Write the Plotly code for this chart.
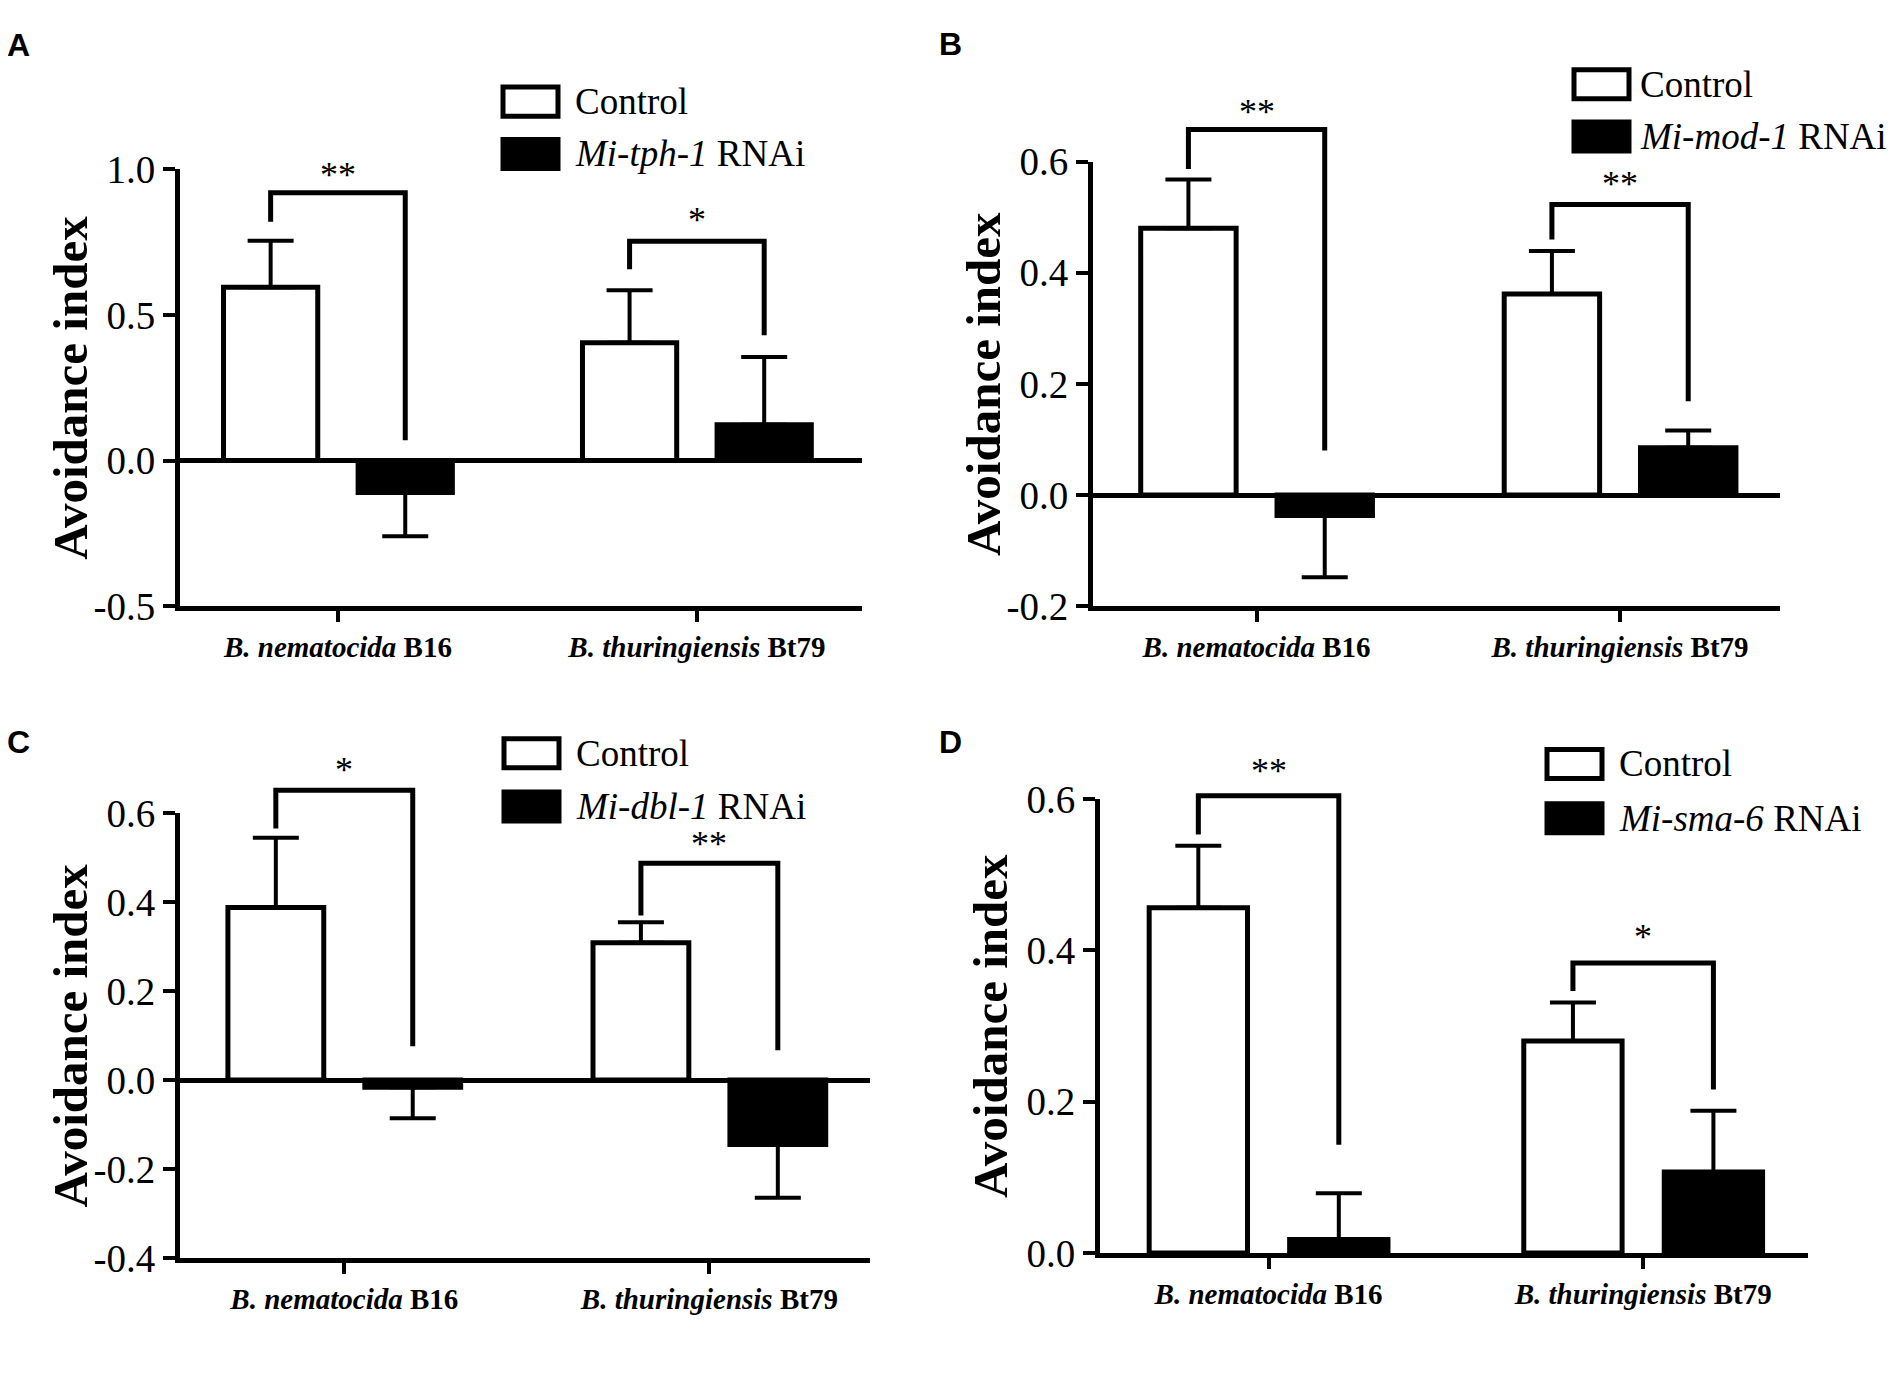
import plotly.graph_objects as go

# page body has an 8px margin, so the figure is drawn 8px smaller on each side
M = 8
W, H = 1904 - 2 * M, 1375 - 2 * M

categories = ["<b><i>B. nematocida</i> B16</b>", "<b><i>B. thuringiensis</i> Bt79</b>"]
panel_letters = ["A", "B", "C", "D"]
genes = ["Mi-tph-1", "Mi-mod-1", "Mi-dbl-1", "Mi-sma-6"]

# avoidance index, per panel: [B16, Bt79]
control_a = [0.595, 0.405]
control_err_a = [0.16, 0.18]
rnai_a = [-0.11, 0.123]
rnai_err_a = [0.15, 0.233]

control_b = [0.48, 0.362]
control_err_b = [0.088, 0.077]
rnai_b = [-0.037, 0.085]
rnai_err_b = [0.111, 0.031]

control_c = [0.388, 0.309]
control_err_c = [0.157, 0.046]
rnai_c = [-0.016, -0.145]
rnai_err_c = [0.07, 0.12]

control_d = [0.456, 0.28]
control_err_d = [0.082, 0.051]
rnai_d = [0.018, 0.107]
rnai_err_d = [0.061, 0.081]

# significance brackets: top, left leg end, right leg end, star height, label
bracket_top_a = [0.92, 0.753]
bracket_left_a = [0.82, 0.657]
bracket_right_a = [0.07, 0.43]
star_y_a = [1.0, 0.847]
stars_a = ["**", "*"]

bracket_top_b = [0.658, 0.523]
bracket_left_b = [0.587, 0.46]
bracket_right_b = [0.08, 0.169]
star_y_b = [0.70, 0.57]
stars_b = ["**", "**"]

bracket_top_c = [0.652, 0.488]
bracket_left_c = [0.566, 0.37]
bracket_right_c = [0.076, 0.067]
star_y_c = [0.71, 0.545]
stars_c = ["*", "**"]

bracket_top_d = [0.604, 0.383]
bracket_left_d = [0.553, 0.346]
bracket_right_d = [0.143, 0.216]
star_y_d = [0.645, 0.426]
stars_d = ["**", "*"]

yticks_a = [-0.5, 0.0, 0.5, 1.0]
yticks_b = [-0.2, 0.0, 0.2, 0.4, 0.6]
yticks_c = [-0.4, -0.2, 0.0, 0.2, 0.4, 0.6]
yticks_d = [0.0, 0.2, 0.4, 0.6]

panels = [
    dict(ctrl=control_a, ctrl_err=control_err_a, rnai=rnai_a, rnai_err=rnai_err_a,
         top=bracket_top_a, left=bracket_left_a, right=bracket_right_a,
         star_y=star_y_a, stars=stars_a, yticks=yticks_a),
    dict(ctrl=control_b, ctrl_err=control_err_b, rnai=rnai_b, rnai_err=rnai_err_b,
         top=bracket_top_b, left=bracket_left_b, right=bracket_right_b,
         star_y=star_y_b, stars=stars_b, yticks=yticks_b),
    dict(ctrl=control_c, ctrl_err=control_err_c, rnai=rnai_c, rnai_err=rnai_err_c,
         top=bracket_top_c, left=bracket_left_c, right=bracket_right_c,
         star_y=star_y_c, stars=stars_c, yticks=yticks_c),
    dict(ctrl=control_d, ctrl_err=control_err_d, rnai=rnai_d, rnai_err=rnai_err_d,
         top=bracket_top_d, left=bracket_left_d, right=bracket_right_d,
         star_y=star_y_d, stars=stars_d, yticks=yticks_d),
]

# panel frames in page pixels: axis x0, x1, y of top tick, y of bottom tick, x range
boxes = [
    dict(x0=180, x1=862, yt=153, yb=604, xr=[-0.44, 1.46]),
    dict(x0=1093, x1=1780, yt=145, yb=604, xr=[-0.45, 1.44]),
    dict(x0=180, x1=870, yt=818, yb=1277, xr=[-0.45, 1.44]),
    dict(x0=1100, x1=1808, yt=803, yb=1272, xr=[-0.45, 1.44]),
]
legend_pos = [
    dict(bx=503, tx=573, cy=83, ry=137),
    dict(bx=1574, tx=1638, cy=65, ry=119),
    dict(bx=504, tx=574, cy=756, ry=811),
    dict(bx=1547, tx=1617, cy=767, ry=823),
]
letter_pos = [(18, 25), (950, 24), (18, 744), (950, 744)]

SERIF = "Liberation Serif, Times New Roman, serif"
BARGAP = 0.25
OFF = (1 - BARGAP) / 4


def px(x):
    return (x - M) / W


def py(y):
    return 1 - (y - M) / H


def frac(v, lo, hi):
    return (v - lo) / (hi - lo)


fig = go.Figure()
layout = {}
shapes = []
annotations = []

for i, (p, b) in enumerate(zip(panels, boxes)):
    n = i + 1
    xa = "x" if n == 1 else f"x{n}"
    ya = "y" if n == 1 else f"y{n}"
    yt = p["yticks"]
    y0, y1 = yt[0], yt[-1]
    x0, x1 = b["xr"]

    for vals, errs, fill in [(p["ctrl"], p["ctrl_err"], "white"), (p["rnai"], p["rnai_err"], "black")]:
        plus = [e if v >= 0 else 0 for v, e in zip(vals, errs)]
        minus = [e if v < 0 else 0 for v, e in zip(vals, errs)]
        fig.add_trace(go.Bar(
            x=[0, 1], y=vals, xaxis=xa, yaxis=ya, showlegend=False,
            marker=dict(color=fill, line=dict(color="black", width=5)),
            error_y=dict(type="data", symmetric=False, array=plus, arrayminus=minus,
                         color="black", thickness=4, width=23),
        ))

    layout["xaxis" if n == 1 else f"xaxis{n}"] = dict(
        domain=[px(b["x0"]), px(b["x1"])], anchor=ya, range=b["xr"],
        tickvals=[0, 1], ticktext=categories, ticks="outside", ticklen=11,
        tickwidth=4, tickcolor="black", showline=True, linewidth=5, linecolor="black",
        showgrid=False, zeroline=False, tickfont=dict(family=SERIF, size=29, color="black"),
    )
    layout["yaxis" if n == 1 else f"yaxis{n}"] = dict(
        domain=[py(b["yb"]), py(b["yt"])], anchor=xa, range=[y0, y1],
        tickvals=yt, ticktext=[f"{v:.1f}" for v in yt], ticks="outside", ticklen=12,
        tickwidth=4, tickcolor="black", showline=True, linewidth=5, linecolor="black",
        showgrid=False, zeroline=y0 < 0, zerolinecolor="black", zerolinewidth=5,
        tickfont=dict(family=SERIF, size=39, color="black"),
    )

    # significance brackets (domain refs so they may rise above the axis top)
    for k in range(2):
        xl = frac(k - OFF, x0, x1)
        xr = frac(k + OFF, x0, x1)
        ytop = frac(p["top"][k], y0, y1)
        yl = frac(p["left"][k], y0, y1)
        yr = frac(p["right"][k], y0, y1)
        shapes.append(dict(
            type="path", xref=f"{xa} domain", yref=f"{ya} domain",
            path=f"M {xl},{yl} L {xl},{ytop} L {xr},{ytop} L {xr},{yr}",
            line=dict(color="black", width=5),
        ))
        annotations.append(dict(
            x=frac(k, x0, x1), y=frac(p["star_y"][k], y0, y1),
            xref=f"{xa} domain", yref=f"{ya} domain", text=p["stars"][k], showarrow=False,
            xanchor="center", yanchor="middle", yshift=-6,
            font=dict(family=SERIF, size=36, color="black"),
        ))

    # y axis title
    annotations.append(dict(
        x=px(b["x0"]), y=py((b["yt"] + b["yb"]) / 2), xref="paper", yref="paper",
        xshift=-109, text="<b>Avoidance index</b>", textangle=-90, showarrow=False,
        xanchor="center", yanchor="middle", font=dict(family=SERIF, size=49, color="black"),
    ))

    # legend
    lg = legend_pos[i]
    for cy, fill, label in [(lg["cy"], "white", "Control"),
                            (lg["ry"], "black", f"<i>{genes[i]}</i> RNAi")]:
        shapes.append(dict(
            type="rect", xref="paper", yref="paper",
            x0=px(lg["bx"]), x1=px(lg["bx"] + 55), y0=py(cy + 15), y1=py(cy - 15),
            fillcolor=fill, line=dict(color="black", width=5),
        ))
        annotations.append(dict(
            x=px(lg["tx"]), y=py(cy), xref="paper", yref="paper", text=label,
            showarrow=False, xanchor="left", yanchor="middle",
            font=dict(family=SERIF, size=37, color="black"),
        ))

    lx, ly = letter_pos[i]
    annotations.append(dict(
        x=px(lx), y=py(ly), xref="paper", yref="paper", text=f"<b>{panel_letters[i]}</b>",
        showarrow=False, xanchor="center", yanchor="middle",
        font=dict(family="Liberation Sans, Arial, sans-serif", size=32, color="black"),
    ))

fig.update_layout(
    width=W, height=H,
    margin=dict(l=0, r=0, t=0, b=0),
    barmode="group", bargap=BARGAP, bargroupgap=0.3,
    plot_bgcolor="white", paper_bgcolor="white",
    shapes=shapes, annotations=annotations,
    **layout,
)

fig.write_html("out.html")
